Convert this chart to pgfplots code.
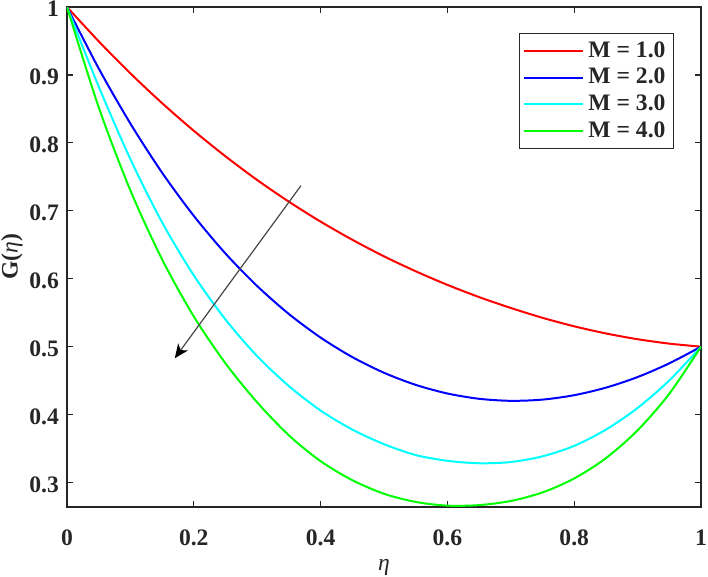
\documentclass[border=0pt]{standalone}
\usepackage{pgfplots}
\pgfplotsset{compat=1.18}
\usepackage{fontspec}
\setmainfont{Liberation Serif}
\usetikzlibrary{arrows.meta}
\definecolor{axgray}{RGB}{38,38,38}
\definecolor{argray}{RGB}{70,70,70}
\definecolor{mred}{RGB}{255,0,0}
\definecolor{mblue}{RGB}{0,0,255}
\definecolor{mcyan}{RGB}{0,255,255}
\definecolor{mgreen}{RGB}{0,255,0}
\begin{document}
\begin{tikzpicture}
\begin{axis}[
  scale only axis,
  width=317pt, height=250pt,
  xmin=0, xmax=1, ymin=0.264, ymax=1,
  xtick={0,0.2,0.4,0.6,0.8,1},
  xticklabels={0,0.2,0.4,0.6,0.8,1},
  ytick={0.3,0.4,0.5,0.6,0.7,0.8,0.9,1},
  yticklabels={0.3,0.4,0.5,0.6,0.7,0.8,0.9,1},
  tick align=inside,
  major tick length=3pt,
  axis line style={axgray, line width=0.6pt},
  every tick/.style={axgray, line width=0.6pt},
  tick label style={font=\fontsize{11.8}{14}\selectfont\bfseries, text=axgray},
  xticklabel style={yshift=-8pt},
  yticklabel style={xshift=-0.5pt, yshift=-1pt},
  xlabel={\fontsize{11.8}{14}\selectfont\textit{η}},
  ylabel={\fontsize{11.8}{14}\selectfont\bfseries G(\textit{\mdseries η})},
  xlabel style={at={(axis description cs:0.5,-0.12)}, anchor=center, text=axgray},
  ylabel style={at={(axis description cs:-0.087,0.5)}, anchor=center, text=axgray},
  legend style={at={(rel axis cs:1,1)}, anchor=north east, xshift=-13.5pt, yshift=-13pt,
    draw=axgray, line width=0.5pt, fill=white,
    font=\fontsize{11.8}{13.8}\selectfont\bfseries, text=axgray,
    inner xsep=2pt, inner ysep=2pt, row sep=0pt},
  legend cell align=left,
  legend image code/.code={\draw[#1, line width=1pt] (0pt,0pt) -- (29.5pt,0pt);},
  every axis plot/.append style={line width=1pt},
]
\addplot[mred, smooth] coordinates {(0,1)(0.05,0.9495)(0.1,0.9023)(0.15,0.8585)(0.2,0.8178)(0.25,0.7802)(0.3,0.7453)(0.35,0.7134)(0.4,0.6841)(0.45,0.6574)(0.5,0.633)(0.55,0.611)(0.6,0.591)(0.65,0.573)(0.7,0.557)(0.75,0.5425)(0.8,0.530)(0.85,0.5195)(0.9,0.511)(0.95,0.5045)(1,0.5)};
\addlegendentry{M = 1.0}
\addplot[mblue, smooth] coordinates {(0,1)(0.05,0.9096)(0.1,0.8284)(0.15,0.7561)(0.2,0.6926)(0.25,0.6371)(0.3,0.5892)(0.35,0.5481)(0.4,0.5134)(0.45,0.4847)(0.5,0.4616)(0.55,0.4438)(0.6,0.4311)(0.65,0.4233)(0.7,0.4203)(0.75,0.4221)(0.8,0.4286)(0.85,0.4397)(0.9,0.4553)(0.95,0.4755)(1,0.5)};
\addlegendentry{M = 2.0}
\addplot[mcyan, smooth] coordinates {(0,1)(0.05,0.883)(0.1,0.776)(0.15,0.683)(0.2,0.605)(0.25,0.540)(0.3,0.486)(0.35,0.442)(0.4,0.406)(0.45,0.378)(0.5,0.3565)(0.55,0.3405)(0.6,0.332)(0.65,0.3284)(0.7,0.3302)(0.75,0.3386)(0.8,0.3540)(0.85,0.3779)(0.9,0.4098)(0.95,0.4503)(1,0.5)};
\addlegendentry{M = 3.0}
\addplot[mgreen, smooth] coordinates {(0,1)(0.05,0.8525)(0.1,0.7300)(0.15,0.6285)(0.2,0.5445)(0.25,0.4755)(0.3,0.4180)(0.35,0.3695)(0.4,0.3315)(0.45,0.3035)(0.5,0.2835)(0.55,0.2715)(0.6,0.2660)(0.65,0.2668)(0.7,0.2729)(0.75,0.2855)(0.8,0.3060)(0.85,0.3359)(0.9,0.3769)(0.95,0.4307)(1,0.5)};
\addlegendentry{M = 4.0}
\draw[argray, line width=0.6pt, -{Stealth[length=7pt, width=6pt, inset=2pt, color=black, fill=black]}] (axis cs:0.369,0.737) -- (axis cs:0.170,0.483);
\coordinate (SW) at (rel axis cs:0,0);
\coordinate (NE) at (rel axis cs:1,1);
\end{axis}
\pgfresetboundingbox
\path ([shift={(-33.5pt,-34.5pt)}]SW) rectangle ([shift={(3.5pt,3.5pt)}]NE);
\end{tikzpicture}
\end{document}
